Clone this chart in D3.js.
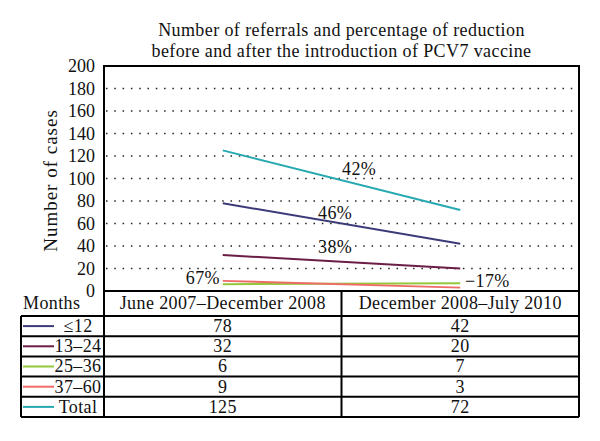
<!DOCTYPE html>
<html><head><meta charset="utf-8">
<script src="https://cdn.jsdelivr.net/npm/d3@7"></script>
<style>body{margin:0;background:#fff}</style>
</head><body>
<svg id="c" width="600" height="441"></svg>
<script>
const periods = ["June 2007–December 2008", "December 2008–July 2010"];
const groups = ["≤12", "13–24", "25–36", "37–60", "Total"];
const before = [78, 32, 6, 9, 125];
const after = [42, 20, 7, 3, 72];
const reductions = ["46%", "38%", "−17%", "67%", "42%"];
const yTicks = [0, 20, 40, 60, 80, 100, 120, 140, 160, 180, 200];
const colors = ["#3c3a78", "#6b1e45", "#94c83a", "#ef6b68", "#27a9b0"];
const titleLines = ["Number of referrals and percentage of reduction", "before and after the introduction of PCV7 vaccine"];

const svg = d3.select("#c");
const font = "'Liberation Serif', serif";
const FS = 18, LS = 0.4;
const L = 104, R = 579, T = 66, B = 291;
const x = d3.scaleBand().domain(periods).range([L, R]);
const y = d3.scaleLinear().domain([0, 200]).range([B, T]);
const rowTop = 316, rowBottom = 417;
const ry = d3.scaleBand().domain(groups).range([rowTop, rowBottom]);

function txt(sel) {
  return sel.attr("font-family", font).attr("font-size", FS).attr("letter-spacing", LS).attr("fill", "#111");
}

// title
svg.append("g").selectAll("text").data(titleLines).join("text")
  .attr("x", (L + R) / 2).attr("y", (d, i) => 36 + i * 21)
  .attr("text-anchor", "middle").call(txt)
  .text(d => d);

// grid dotted
svg.append("g").selectAll("line").data(yTicks.filter(t => t > 0 && t < 200)).join("line")
  .attr("x1", L + 2).attr("x2", R).attr("y1", d => y(d)).attr("y2", d => y(d))
  .attr("stroke", "#222").attr("stroke-width", 1.6).attr("stroke-dasharray", "1.5,6.8");

// y axis labels
const yAxis = d3.axisLeft(y).tickValues(yTicks).tickSize(0).tickPadding(9);
const ga = svg.append("g").attr("transform", `translate(${L},0)`).call(yAxis);
ga.select(".domain").remove();
ga.selectAll("text").call(txt).attr("letter-spacing", 0).attr("dy", "0.33em");

svg.append("text").attr("transform", `translate(57,${(T + B) / 2 + 2}) rotate(-90)`)
  .attr("text-anchor", "middle").call(txt).attr("font-size", 19).attr("letter-spacing", 1)
  .text("Number of cases");

// series lines
const cx = p => x(p) + x.bandwidth() / 2;
groups.forEach((g, i) => {
  const pts = [[cx(periods[0]), y(before[i])], [cx(periods[1]), y(after[i])]];
  svg.append("path").attr("d", d3.line()(pts)).attr("stroke", colors[i])
    .attr("stroke-width", 2).attr("fill", "none");
});

// percent labels
const labelPos = [
  {x: 318, y: 219, a: "start"},
  {x: 318, y: 253, a: "start"},
  {x: 465, y: 287, a: "start"},
  {x: 220, y: 284, a: "end"},
  {x: 342, y: 175, a: "start"}
];
svg.append("g").selectAll("text").data(reductions).join("text")
  .attr("x", (d, i) => labelPos[i].x).attr("y", (d, i) => labelPos[i].y)
  .attr("text-anchor", (d, i) => labelPos[i].a)
  .call(txt).text(d => d);

// plot frame
svg.append("path").attr("d", `M${L},${B}V${T}H${R}V${rowBottom}`)
  .attr("fill", "none").attr("stroke", "#000").attr("stroke-width", 2);
svg.append("line").attr("x1", L).attr("x2", R).attr("y1", B).attr("y2", B)
  .attr("stroke", "#000").attr("stroke-width", 2);

// table header
svg.append("text").attr("x", 23).attr("y", 309).call(txt).text("Months");
svg.append("g").selectAll("text").data(periods).join("text")
  .attr("x", d => cx(d)).attr("y", 309).attr("text-anchor", "middle")
  .call(txt).text(d => d);

// table grid
const TL = 21;
const hlines = [rowTop].concat(groups.map(g => ry(g) + ry.bandwidth()));
svg.append("g").selectAll("line").data(hlines).join("line")
  .attr("x1", TL).attr("x2", R).attr("y1", d => d).attr("y2", d => d)
  .attr("stroke", "#000").attr("stroke-width", 2);
svg.append("line").attr("x1", TL).attr("x2", TL).attr("y1", rowTop).attr("y2", rowBottom)
  .attr("stroke", "#000").attr("stroke-width", 2);
svg.append("line").attr("x1", L).attr("x2", L).attr("y1", B).attr("y2", rowBottom)
  .attr("stroke", "#000").attr("stroke-width", 2);
svg.append("line").attr("x1", x(periods[1])).attr("x2", x(periods[1])).attr("y1", B).attr("y2", rowBottom)
  .attr("stroke", "#000").attr("stroke-width", 2);

// table rows
const rows = svg.append("g").selectAll("g").data(groups).join("g")
  .attr("transform", g => `translate(0,${ry(g)})`);
rows.append("line").attr("x1", 23).attr("x2", 54)
  .attr("y1", ry.bandwidth() / 2).attr("y2", ry.bandwidth() / 2)
  .attr("stroke", (g, i) => colors[i]).attr("stroke-width", 2);
rows.append("text").attr("x", 78).attr("y", ry.bandwidth() / 2 + 6).attr("text-anchor", "middle")
  .call(txt).text(g => g);
rows.append("text").attr("x", cx(periods[0])).attr("y", ry.bandwidth() / 2 + 6).attr("text-anchor", "middle")
  .call(txt).text((g, i) => before[i]);
rows.append("text").attr("x", cx(periods[1])).attr("y", ry.bandwidth() / 2 + 6).attr("text-anchor", "middle")
  .call(txt).text((g, i) => after[i]);
</script>
</body></html>
